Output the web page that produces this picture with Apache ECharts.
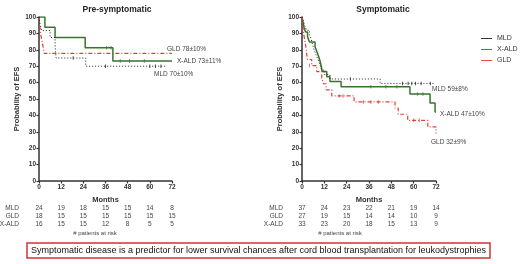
<!DOCTYPE html>
<html><head><meta charset="utf-8">
<script src="https://cdn.jsdelivr.net/npm/echarts@6/dist/echarts.min.js"></script>
<style>html,body{margin:0;padding:0;background:#fff}#c{width:520px;height:264px}</style>
</head><body><div id="c"></div>
<script>
const months = [0, 12, 24, 36, 48, 60, 72];
const groups = ['MLD', 'GLD', 'X-ALD'];
// Pre-symptomatic KM curves [month, EFS%]
const preMLD = [[0,100],[0.5,95.8],[1.5,91.7],[6,87.5],[8.7,83.3],[9.2,75],[25.3,70],[69,70]];
const preGLD = [[0,100],[0.4,94.4],[1,88.9],[2,83.3],[2.8,77.8],[72,77.8]];
const preXALD = [[0,100],[3.2,93.8],[8.7,87.5],[25,81.3],[40,73.1],[72,73.1]];
// Symptomatic KM curves
const symMLD = [[0,100],[0.8,97.3],[1.5,94.6],[2.5,91.9],[4,89.2],[5,86.5],[5.5,83.8],[6.2,81.1],[7,78.4],[8,75.7],[9,73],[9.8,70.3],[10.5,67.6],[12,64.9],[15,62.2],[42,59.5],[71,59.5]];
const symXALD = [[0,100],[0.5,97],[1,93.9],[1.9,90.9],[3,87.9],[4,84.8],[7,81.8],[8,78.8],[9,75.8],[9.8,72.7],[10.4,69.7],[10.8,66.7],[13.3,63.6],[15,60.6],[21,57.5],[58,53],[68.8,47.5],[71.5,42],[72,42]];
const symGLD = [[0,100],[0.3,96.3],[0.6,92.6],[1,88.9],[1.6,85.2],[2.1,81.5],[2.5,77.8],[2.9,74.1],[5.2,70.4],[7.9,66.7],[10.6,63],[11.5,59.3],[13,55.6],[16,51.9],[28,48.2],[50,44.5],[51.7,40.7],[56.8,37],[67.6,33],[72,29]];
// censor marks
const preMLDcens = [[18.5,75],[36,70],[60,70],[63,70],[66,70]];
const preXALDcens = [[36.6,81.3],[39,81.3],[44,73.1],[49,73.1],[57,73.1]];
const symMLDcens = [[26,62.2],[54,59.5],[57,59.5],[59,59.5],[61,59.5],[64,59.5],[69,59.5]];
const symXALDcens = [[37,57.5],[45,57.5],[51,57.5],[62,53],[65,53]];
const symGLDcens = [[4,70.4],[20,51.9],[22,51.9],[33,48.2],[37,48.2],[41,48.2],[60,37],[63,37]];
// patients at risk
const preRisk = { 'MLD': [24,19,18,15,15,14,8], 'GLD': [18,15,15,15,15,15,15], 'X-ALD': [16,15,15,12,8,5,5] };
const symRisk = { 'MLD': [37,24,23,22,21,19,14], 'GLD': [27,19,15,14,14,10,9], 'X-ALD': [33,23,20,18,15,13,9] };
const preLabels = [['GLD 78±10%', 167, 49], ['X-ALD 73±11%', 177, 61], ['MLD 70±10%', 154, 74]];
const symLabels = [['MLD 59±8%', 432, 89], ['X-ALD 47±10%', 440, 114], ['GLD 32±9%', 431, 142]];

const FONT = 'Liberation Sans';
const colors = { 'MLD': '#222222', 'X-ALD': '#3a7330', 'GLD': '#e0403a' };
const styles = { 'MLD': [1, 2], 'X-ALD': 'solid', 'GLD': [4, 2, 1, 2] };
const widths = { 'MLD': 1, 'X-ALD': 1.5, 'GLD': 1.2 };

const grids = [
  { left: 39, top: 17, width: 133, height: 164 },
  { left: 302, top: 17, width: 134, height: 164 }
];
const xAxes = [], yAxes = [], series = [];
const riskSets = [preRisk, symRisk];
[0, 1].forEach(g => {
  xAxes.push({
    gridIndex: g, type: 'value', min: 0, max: 72, interval: 12,
    name: 'Months', nameLocation: 'middle', nameGap: 14,
    nameTextStyle: { fontFamily: FONT, fontWeight: 'bold', fontSize: 7.5, color: '#333' },
    axisLine: { lineStyle: { color: '#333', width: 1.5 } },
    axisTick: { length: 2.5, lineStyle: { color: '#333', width: 1.2 } },
    axisLabel: { margin: 3, fontFamily: FONT, fontWeight: 'bold', fontSize: 6.5, color: '#333' },
    splitLine: { show: false }
  });
  groups.forEach((gr, r) => {
    const arr = riskSets[g][gr];
    xAxes.push({
      gridIndex: g, type: 'value', min: 0, max: 72, interval: 12, position: 'bottom',
      offset: 24 + r * 8,
      axisLine: { show: false }, axisTick: { show: false }, splitLine: { show: false },
      axisLabel: { margin: 0, fontFamily: FONT, fontSize: 6.5, color: '#444',
        formatter: v => String(arr[months.indexOf(v)]) }
    });
  });
  yAxes.push({
    gridIndex: g, type: 'value', min: 0, max: 100, interval: 10,
    name: 'Probability of EFS', nameLocation: 'middle', nameGap: 14, nameRotate: 90,
    nameTextStyle: { fontFamily: FONT, fontWeight: 'bold', fontSize: 7.5, color: '#333' },
    axisLine: { show: true, lineStyle: { color: '#333', width: 1.5 } },
    axisTick: { show: true, length: 2.5, lineStyle: { color: '#333', width: 1.2 } },
    axisLabel: { margin: 3, fontFamily: FONT, fontWeight: 'bold', fontSize: 6.5, color: '#333' },
    splitLine: { show: false }
  });
});
function km(name, data, g) {
  series.push({
    name, type: 'line', step: 'end', data, xAxisIndex: g * 4, yAxisIndex: g,
    symbol: 'none', silent: true, z: name === 'X-ALD' ? 3 : 4,
    itemStyle: { color: colors[name] },
    lineStyle: { color: colors[name], width: widths[name], type: styles[name] }
  });
}
function cens(name, data, g) {
  series.push({
    name, type: 'scatter', data, xAxisIndex: g * 4, yAxisIndex: g,
    symbol: 'rect', symbolSize: [1, 3.5], silent: true,
    itemStyle: { color: colors[name] }
  });
}
km('X-ALD', preXALD, 0); km('GLD', preGLD, 0); km('MLD', preMLD, 0);
cens('MLD', preMLDcens, 0); cens('X-ALD', preXALDcens, 0);
km('X-ALD', symXALD, 1); km('GLD', symGLD, 1); km('MLD', symMLD, 1);
cens('MLD', symMLDcens, 1); cens('X-ALD', symXALDcens, 1); cens('GLD', symGLDcens, 1);

const graphics = [];
function txt(text, x, y, opts) {
  graphics.push({ type: 'text', x, y, silent: true,
    style: Object.assign({ text, fontFamily: FONT, fontSize: 6.5, fill: '#444', textVerticalAlign: 'middle' }, opts || {}) });
}
preLabels.forEach(l => txt(l[0], l[1], l[2]));
symLabels.forEach(l => txt(l[0], l[1], l[2]));
groups.forEach((gr, r) => {
  txt(gr, 19, 208 + r * 8, { textAlign: 'right' });
  txt(gr, 283, 208 + r * 8, { textAlign: 'right' });
});
txt('# patients at risk', 95, 233, { textAlign: 'center', fontSize: 6 });
txt('# patients at risk', 340, 233, { textAlign: 'center', fontSize: 6 });
graphics.push({ type: 'rect', shape: { x: 27, y: 243, width: 463, height: 15 }, silent: true,
  style: { fill: '#fff', stroke: '#d03535', lineWidth: 1.5 } });
txt('Symptomatic disease is a predictor for lower survival chances after cord blood transplantation for leukodystrophies',
  258.5, 250.5, { textAlign: 'center', fontSize: 9, fill: '#111' });

const lineIcon = 'path://M0,4.5L12,4.5L12,5.5L0,5.5Z';
const chart = echarts.init(document.getElementById('c'), null, { renderer: 'canvas' });
chart.setOption({
  animation: false,
  backgroundColor: '#fff',
  title: [
    { text: 'Pre-symptomatic', left: 112, top: 0, textAlign: 'center',
      textStyle: { fontFamily: FONT, fontWeight: 'bold', fontSize: 8.5, color: '#222' } },
    { text: 'Symptomatic', left: 378, top: 0, textAlign: 'center',
      textStyle: { fontFamily: FONT, fontWeight: 'bold', fontSize: 8.5, color: '#222' } }
  ],
  legend: {
    data: [
      { name: 'MLD', icon: lineIcon, itemStyle: { color: colors['MLD'] } },
      { name: 'X-ALD', icon: lineIcon, itemStyle: { color: colors['X-ALD'] } },
      { name: 'GLD', icon: lineIcon, itemStyle: { color: colors['GLD'] } }
    ],
    orient: 'vertical', left: 481, top: 35,
    itemWidth: 11, itemHeight: 7, itemGap: 4, padding: 0,
    textStyle: { fontFamily: FONT, fontSize: 7, color: '#333' }
  },
  grid: grids, xAxis: xAxes, yAxis: yAxes, series, graphic: graphics
});
</script></body></html>
